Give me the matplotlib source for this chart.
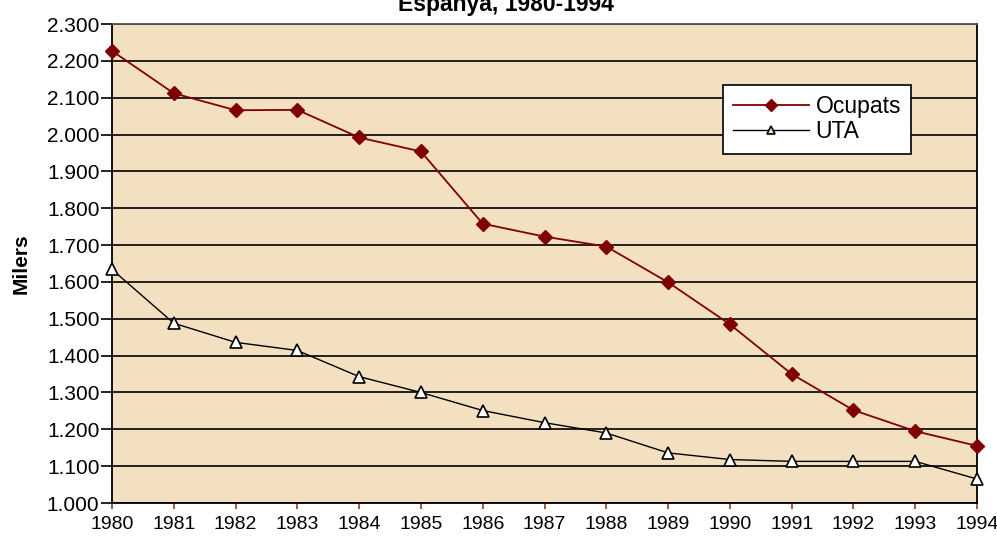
import matplotlib
matplotlib.use("Agg")
import matplotlib.pyplot as plt
import matplotlib.ticker as mticker

plt.rcParams['font.family'] = ['Liberation Sans', 'DejaVu Sans']

    # dades
anys = [1980, 1981, 1982, 1983, 1984, 1985, 1986, 1987, 1988, 1989, 1990, 1991, 1992, 1993, 1994]
ocupats = [2227, 2112, 2066, 2067, 1992, 1954, 1758, 1723, 1696, 1599, 1485, 1350, 1252, 1195, 1155]
uta = [1634, 1488, 1436, 1414, 1343, 1300, 1251, 1218, 1190, 1136, 1118, 1113, 1113, 1113, 1065]
yticks = list(range(1000, 2301, 100))

    # figura
fig = plt.figure(figsize=(9.97, 5.37), dpi=100)
ax = fig.add_axes([0.1123, 0.0633, 0.8677, 0.892])
ax.set_facecolor('#F3E0C1')

    # quadrícula
for v in yticks:
    ax.axhline(v, color='black', linewidth=1.2, zorder=1)

    # corbes
ax.plot(anys, ocupats, color='#800000', linewidth=1.3, marker='D', markersize=7,
        markerfacecolor='#800000', markeredgecolor='#800000', label='Ocupats', zorder=3, clip_on=False)
ax.plot(anys, uta, color='black', linewidth=1.0, marker='^', markersize=9,
        markerfacecolor='white', markeredgecolor='black', markeredgewidth=1.2, label='UTA', zorder=3, clip_on=False)

    # eixos
ax.set_xlim(1980, 1994)
ax.set_ylim(1000, 2300)
ax.set_xticks(anys)
ax.set_yticks(yticks)
ax.yaxis.set_major_formatter(mticker.FuncFormatter(lambda v, p: f"{int(v):,}".replace(',', '.')))
ax.tick_params(axis='y', direction='out', length=8, width=1.2, labelsize=15, pad=1)
ax.tick_params(axis='x', direction='out', length=4, width=1.5, color='#a0604a', labelsize=14, pad=5)
for s in ax.spines.values():
    s.set_color('black')
    s.set_linewidth(1.3)
ax.spines['top'].set_color('#555555')

ax.set_ylabel('Milers', fontsize=15, fontweight='bold', labelpad=12)

    # títol (retallat a dalt, com a l'original)
fig.text(0.507, 1 - 11 / 537, 'Espanya, 1980-1994', ha='center', va='baseline',
         fontsize=16.5, fontweight='bold')

    # llegenda
leg = ax.legend(loc='upper left', bbox_to_anchor=(0.706, 0.873), fancybox=False,
                framealpha=1, edgecolor='black', fontsize=16.5, handlelength=3.3,
                borderpad=0.45, labelspacing=0.1, handletextpad=0.3, borderaxespad=0)
leg.get_frame().set_linewidth(1.2)
leg.set_zorder(5)
for h in leg.legend_handles:
    h.set_markersize(6)
leg.legend_handles[1].set_markerfacecolor('#F3E0C1')

fig.savefig('out.png', dpi=100)
